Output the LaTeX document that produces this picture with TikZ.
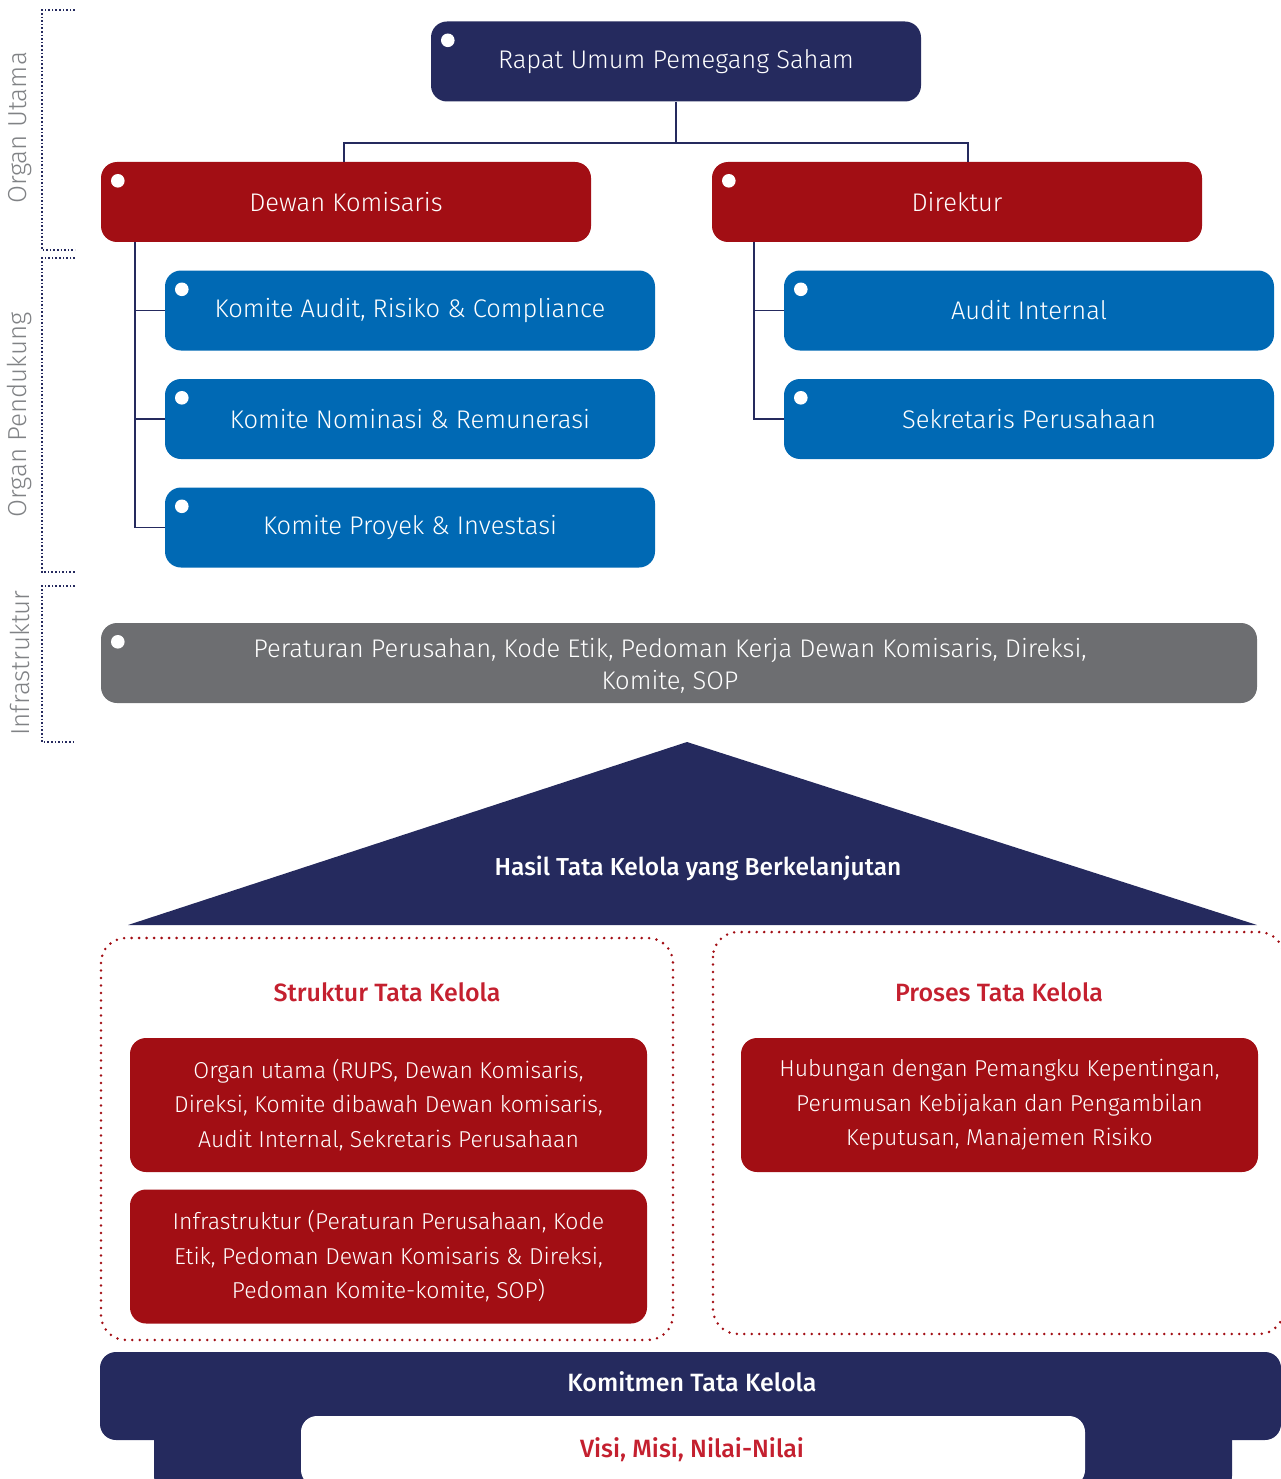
\documentclass[tikz,border=0pt]{standalone}
\usepackage{fontspec}
\setmainfont{Fira Sans}[UprightFont=* Light, BoldFont=* Medium]
\usetikzlibrary{calc}
\definecolor{navy}{HTML}{252A5E}
\definecolor{dred}{HTML}{A20E14}
\definecolor{hred}{HTML}{C4202F}
\definecolor{mblue}{HTML}{0069B4}
\definecolor{mgrey}{HTML}{6D6E71}
\definecolor{lgrey}{HTML}{808285}
\begin{document}
\begin{tikzpicture}[x=1pt,y=-1pt,
  orgbox/.style={rectangle, rounded corners=16pt, minimum width=490pt, minimum height=80pt, text=white, inner sep=0pt, font=\fontsize{25.5}{30}\selectfont},
  infobox/.style={rectangle, rounded corners=16pt, fill=dred, minimum width=517pt, minimum height=134pt, text=white, inner sep=0pt, align=center, font=\fontsize{23}{34.5}\selectfont},
  conn/.style={draw=navy, line width=1.8pt},
  brk/.style={draw=navy, dotted, line width=1.6pt},
  sidelbl/.style={rotate=90, text=lgrey, font=\fontsize{26}{30}\selectfont},
  headred/.style={text=hred, font=\bfseries\fontsize{25}{30}\selectfont},
  dotbox/.style={draw=dred, line width=2.8pt, dash pattern=on 0pt off 7.5pt, line cap=round, rounded corners=25pt}
]
\useasboundingbox (0,0) rectangle (1280,1479);
\newcommand\bdot[1]{\fill[white] ($(#1.north west)+(17,19)$) circle (6.8pt);}

% side brackets
\draw[brk] (75,10) -- (42,10) -- (42,250) -- (75,250);
\draw[brk] (75,258) -- (42,258) -- (42,572) -- (75,572);
\draw[brk] (75,586) -- (42,586) -- (42,742) -- (75,742);
\node[sidelbl] (lu) at (20,128) {Organ Utama};
\node[sidelbl] (lp) at (20,415) {Organ Pendukung};
\node[sidelbl] (li) at (20,663) {Infrastruktur};

% org boxes
\node[orgbox, fill=navy] (rups) at (676,61.5) {Rapat Umum Pemegang Saham};
\node[orgbox, fill=dred] (dk) at (346,202) {Dewan Komisaris};
\node[orgbox, fill=dred] (dir) at (957,202) {Direktur};
\node[orgbox, fill=mblue] (ka) at (410,310.5) {Komite Audit, Risiko \& Compliance};
\node[orgbox, fill=mblue] (kn) at (410,419) {Komite Nominasi \& Remunerasi};
\node[orgbox, fill=mblue] (kp) at (410,527.5) {Komite Proyek \& Investasi};
\node[orgbox, fill=mblue] (ai) at (1029,310.5) {Audit Internal};
\node[orgbox, fill=mblue] (sp) at (1029,419) {Sekretaris Perusahaan};
\node[orgbox, fill=mgrey, minimum width=1156pt] (inf) at (679,663) {};
\node[text=white, align=center, inner sep=0pt, font=\fontsize{25.5}{32}\selectfont] (inft) at (670,666) {Peraturan Perusahan, Kode Etik, Pedoman Kerja Dewan Komisaris, Direksi,\\Komite, SOP};
\foreach \n in {rups,dk,dir,ka,kn,kp,ai,sp,inf} {\bdot{\n}}

% connectors
\draw[conn] (rups.south) -- ++(0,41) coordinate (j) -| ([xshift=-2pt]dk.north);
\draw[conn] (j) -| ([xshift=11pt]dir.north);
\draw[conn] ([xshift=34pt]dk.south west) |- (ka.west);
\draw[conn] ([xshift=34pt]dk.south west) |- (kn.west);
\draw[conn] ([xshift=34pt]dk.south west) |- (kp.west);
\draw[conn] ([xshift=42pt]dir.south west) |- (ai.west);
\draw[conn] ([xshift=42pt]dir.south west) |- (sp.west);

% roof
\fill[navy] (687,742) -- (1257,925) -- (128,925) -- cycle;
\node[text=white, font=\bfseries\fontsize{24.5}{30}\selectfont] (hasil) at (698,868) {Hasil Tata Kelola yang Berkelanjutan};

% dotted pillars
\draw[dotbox] (101,938) rectangle (673,1340);
\draw[dotbox] (713,932) rectangle (1284,1334);
\node[headred] (st) at (387,992) {Struktur Tata Kelola};
\node[headred] (pt) at (999,992) {Proses Tata Kelola};
\node[infobox] (b1) at (388.5,1105) {Organ utama (RUPS, Dewan Komisaris,\\Direksi, Komite dibawah Dewan komisaris,\\Audit Internal, Sekretaris Perusahaan};
\node[infobox] (b2) at (388.5,1256.5) {Infrastruktur (Peraturan Perusahaan, Kode\\Etik, Pedoman Dewan Komisaris \& Direksi,\\Pedoman Komite-komite, SOP)};
\node[infobox] (b3) at (999.5,1105) {Hubungan dengan Pemangku Kepentingan,\\Perumusan Kebijakan dan Pengambilan\\Keputusan, Manajemen Risiko};

% foundation
\fill[navy, rounded corners=16pt] (154,1400) rectangle (1232,1492);
\fill[navy, rounded corners=16pt] (100,1352) rectangle (1281,1440);
\fill[white, rounded corners=16pt] (301,1416) rectangle (1085,1486);
\node[text=white, font=\bfseries\fontsize{25}{30}\selectfont] (kom) at (692,1382) {Komitmen Tata Kelola};
\node[text=hred, font=\bfseries\fontsize{25}{30}\selectfont] (visi) at (692,1450) {Visi, Misi, Nilai-Nilai};
\end{tikzpicture}
\end{document}
